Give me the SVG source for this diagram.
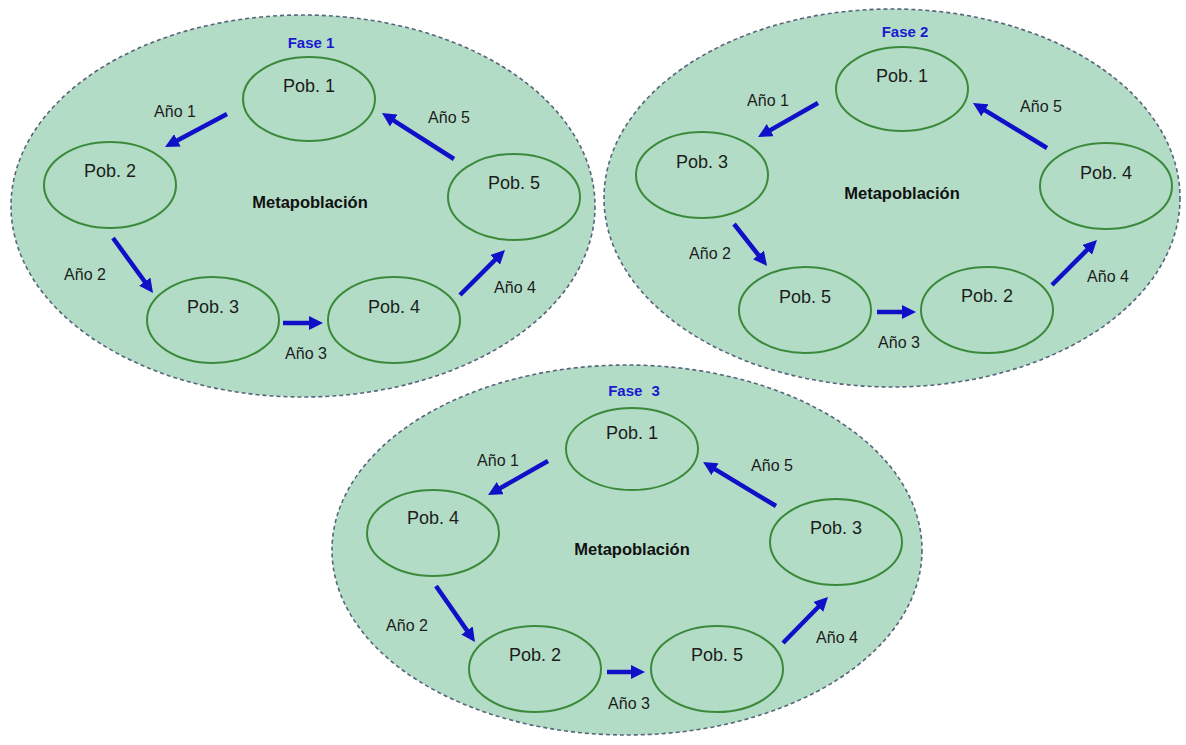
<svg xmlns="http://www.w3.org/2000/svg" width="1186" height="745" viewBox="0 0 1186 745">
<style>
.meta{fill:#b3dcc7;stroke:#56657a;stroke-width:1.6;stroke-dasharray:4,3}
.pop{fill:none;stroke:#3b8a3b;stroke-width:2}
.pt{font-family:"Liberation Sans",Arial,sans-serif;font-size:18px;fill:#1c1c1c;text-anchor:middle}
.yr{font-family:"Liberation Sans",Arial,sans-serif;font-size:16px;fill:#1c1c1c;text-anchor:middle}
.mt{font-family:"Liberation Sans",Arial,sans-serif;font-size:16.5px;font-weight:bold;fill:#111;text-anchor:middle}
.fs{font-family:"Liberation Sans",Arial,sans-serif;font-size:15px;font-weight:bold;fill:#1a1ad0;text-anchor:middle}
.ar{stroke:#1010c8;stroke-width:4.5;fill:none;marker-end:url(#ah)}
</style>
<defs>
<marker id="ah" markerUnits="userSpaceOnUse" markerWidth="14" markerHeight="14" viewBox="0 0 14 14" refX="6" refY="7" orient="auto">
<path d="M0,0 L14,7 L0,14 z" fill="#1010c8"/>
</marker>
</defs>
<rect width="1186" height="745" fill="#ffffff"/>
<g id="fase1">
<ellipse class="meta" cx="303" cy="206" rx="292" ry="191"/>
<text class="fs" x="311" y="48">Fase 1</text>
<text class="mt" x="310" y="208">Metapoblación</text>
</g>
<g id="fase2">
<ellipse class="meta" cx="892" cy="198" rx="288" ry="189"/>
<text class="fs" x="905" y="37">Fase 2</text>
<text class="mt" x="902" y="199">Metapoblación</text>
</g>
<g id="fase3">
<ellipse class="meta" cx="627" cy="550" rx="295" ry="185"/>
<text class="fs" x="634" y="396" word-spacing="5">Fase 3</text>
<text class="mt" x="632" y="555">Metapoblación</text>
</g>
<g id="f1-pob1"><ellipse class="pop" cx="309" cy="99" rx="66" ry="42"/><text class="pt" x="309" y="91.5">Pob. 1</text></g>
<g id="f1-pob2"><ellipse class="pop" cx="110" cy="185" rx="66" ry="43"/><text class="pt" x="110" y="176.5">Pob. 2</text></g>
<g id="f1-pob3"><ellipse class="pop" cx="213" cy="320" rx="66" ry="43"/><text class="pt" x="213" y="312.5">Pob. 3</text></g>
<g id="f1-pob4"><ellipse class="pop" cx="394" cy="320" rx="66" ry="43"/><text class="pt" x="394" y="312.5">Pob. 4</text></g>
<g id="f1-pob5"><ellipse class="pop" cx="514" cy="197" rx="66" ry="43"/><text class="pt" x="514" y="188.5">Pob. 5</text></g>
<g id="f2-pob1"><ellipse class="pop" cx="902" cy="89" rx="66" ry="42"/><text class="pt" x="902" y="81.5">Pob. 1</text></g>
<g id="f2-pob3"><ellipse class="pop" cx="702" cy="175" rx="66" ry="43"/><text class="pt" x="702" y="167.5">Pob. 3</text></g>
<g id="f2-pob5"><ellipse class="pop" cx="805" cy="310" rx="66" ry="43"/><text class="pt" x="805" y="302.5">Pob. 5</text></g>
<g id="f2-pob2"><ellipse class="pop" cx="987" cy="310" rx="66" ry="43"/><text class="pt" x="987" y="301.5">Pob. 2</text></g>
<g id="f2-pob4"><ellipse class="pop" cx="1106" cy="186" rx="66" ry="43"/><text class="pt" x="1106" y="178.5">Pob. 4</text></g>
<g id="f3-pob1"><ellipse class="pop" cx="632" cy="449" rx="66" ry="41"/><text class="pt" x="632" y="438.5">Pob. 1</text></g>
<g id="f3-pob4"><ellipse class="pop" cx="433" cy="533" rx="66" ry="43"/><text class="pt" x="433" y="523.5">Pob. 4</text></g>
<g id="f3-pob2"><ellipse class="pop" cx="535" cy="669" rx="66" ry="43"/><text class="pt" x="535" y="660.5">Pob. 2</text></g>
<g id="f3-pob5"><ellipse class="pop" cx="717" cy="669" rx="66" ry="43"/><text class="pt" x="717" y="660.5">Pob. 5</text></g>
<g id="f3-pob3"><ellipse class="pop" cx="836" cy="542" rx="66" ry="43"/><text class="pt" x="836" y="533.5">Pob. 3</text></g>
<g id="connectors">
<line class="ar" x1="227" y1="114" x2="172.1" y2="143.2"/>
<line class="ar" x1="113" y1="238" x2="148.3" y2="286.5"/>
<line class="ar" x1="283" y1="323" x2="315" y2="323"/>
<line class="ar" x1="460" y1="295" x2="499.3" y2="255.7"/>
<line class="ar" x1="454" y1="159" x2="388.7" y2="117.3"/>
<line class="ar" x1="818" y1="103" x2="765" y2="133.1"/>
<line class="ar" x1="734" y1="224" x2="762.1" y2="259.7"/>
<line class="ar" x1="877" y1="312" x2="908" y2="312"/>
<line class="ar" x1="1052" y1="285" x2="1091.3" y2="245.7"/>
<line class="ar" x1="1047" y1="148" x2="979.8" y2="107.2"/>
<line class="ar" x1="548" y1="461" x2="495" y2="491.1"/>
<line class="ar" x1="436" y1="586" x2="470.4" y2="635.4"/>
<line class="ar" x1="607" y1="672" x2="637" y2="672"/>
<line class="ar" x1="783" y1="643" x2="822.4" y2="602.7"/>
<line class="ar" x1="776" y1="506" x2="709.9" y2="466.1"/>
</g>
<g id="labels">
<text class="yr" x="175" y="117">Año 1</text>
<text class="yr" x="85" y="280">Año 2</text>
<text class="yr" x="306" y="359">Año 3</text>
<text class="yr" x="515" y="293">Año 4</text>
<text class="yr" x="449" y="123">Año 5</text>
<text class="yr" x="768" y="106">Año 1</text>
<text class="yr" x="710" y="259">Año 2</text>
<text class="yr" x="899" y="348">Año 3</text>
<text class="yr" x="1108" y="282">Año 4</text>
<text class="yr" x="1041" y="112">Año 5</text>
<text class="yr" x="498" y="466">Año 1</text>
<text class="yr" x="407" y="631">Año 2</text>
<text class="yr" x="629" y="709">Año 3</text>
<text class="yr" x="837" y="643">Año 4</text>
<text class="yr" x="772" y="471">Año 5</text>
</g>
</svg>
